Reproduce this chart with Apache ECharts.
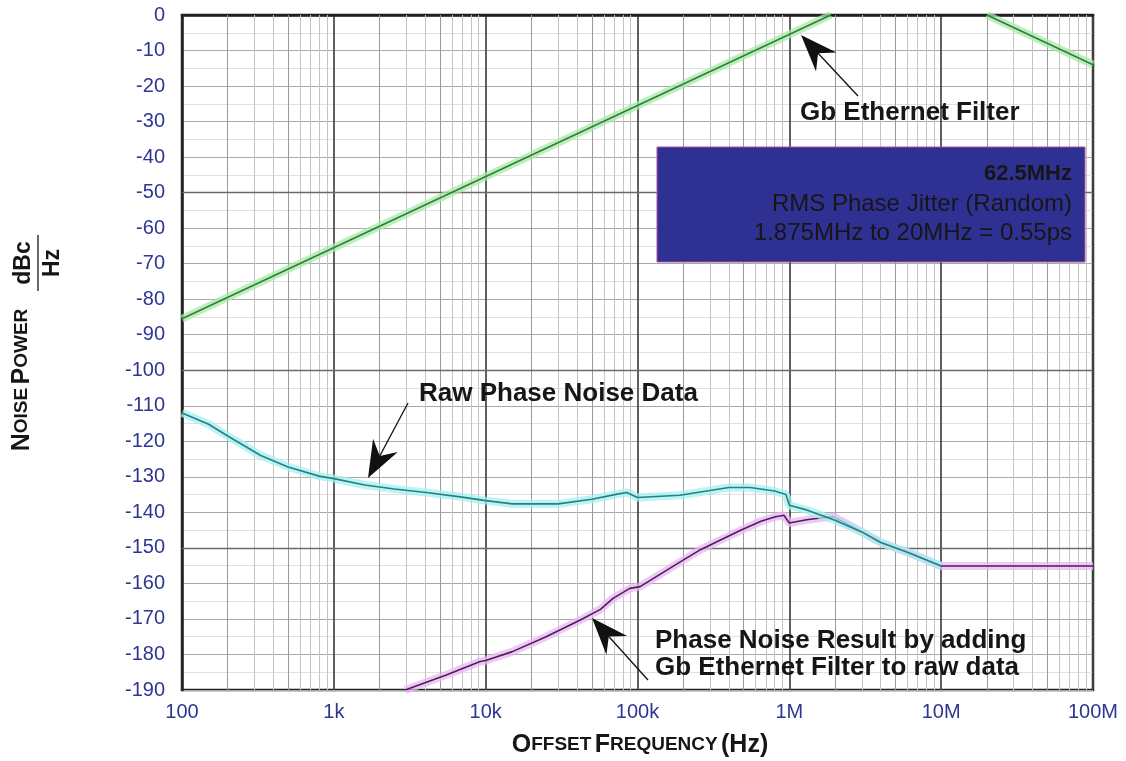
<!DOCTYPE html>
<html>
<head>
<meta charset="utf-8">
<script src="https://cdn.jsdelivr.net/npm/echarts@6/dist/echarts.min.js"></script>
<style>
  html, body { margin: 0; padding: 0; background: #fff; }
  #main { width: 1126px; height: 761px; }
</style>
</head>
<body>
<div id="main"></div>
<script>
// ---- data ----
var xTickLabels = ['100', '1k', '10k', '100k', '1M', '10M', '100M'];

// raw phase noise (cyan)
var rawFreq = [100, 150, 200, 330, 500, 800, 1000, 1600, 2500, 4200, 7000, 10000, 15000, 30000, 50000,
  75000, 85000, 100000, 190000, 400000, 550000, 800000, 950000, 1000000, 1300000, 2000000,
  3000000, 4000000, 6000000, 10000000];
var rawNoise = [-112, -115.2, -118.5, -124, -127.2, -129.8, -130.5, -132.3, -133.4, -134.5, -135.7, -136.7, -137.6, -137.6, -136.3,
  -134.8, -134.4, -135.8, -135.2, -133, -133, -134, -135, -138, -139.3, -142.2,
  -145.5, -148.5, -151.2, -155.1];

// result with filter applied (magenta)
var resFreq = [2950, 5500, 9200, 10000, 15000, 25000, 42000, 57000, 69000, 89000, 104000, 190000, 260000,
  470000, 650000, 800000, 920000, 1000000, 1300000, 1600000, 1950000, 3000000, 4000000, 6000000,
  10000000, 100000000];
var resNoise = [-190, -185.8, -182, -181.7, -179.2, -175, -170.3, -167.3, -164.2, -161.4, -160.9, -154, -150.5,
  -145.2, -142.5, -141.3, -140.8, -143, -142.1, -141.6, -141.2, -145.5, -148.5, -151.2,
  -155.1, -155.1];

// Gb ethernet filter edges (green)
var filterRiseFreq = [100, 1875000];
var filterRiseDb = [-85.5, 0];
var filterFallFreq = [20000000, 100000000];
var filterFallDb = [0, -14];

var boldDb = [-50, -100, -150];

function pairs(xs, ys) {
  var out = [];
  for (var i = 0; i < xs.length; i++) out.push([xs[i], ys[i]]);
  return out;
}

// minor vertical grid lines 2..9 of each decade
var minorX = [];
for (var d = 100; d < 1e8; d *= 10) {
  for (var k = 2; k <= 9; k++) minorX.push(d * k);
}

var FONT = 'Liberation Sans, Arial, sans-serif';
var myChart = echarts.init(document.getElementById('main'));

// band + centre line, like the scanned traces
function trace(name, data, band, core, z) {
  return [{
    name: name + '-band', type: 'line', data: data, symbol: 'none', silent: true, z: z,
    lineStyle: { color: band, width: 8, opacity: 0.75 }
  }, {
    name: name, type: 'line', data: data, symbol: 'none', silent: true, z: z + 1,
    lineStyle: { color: core, width: 1.6 }
  }];
}

function arrow(tail, tip) {
  var dx = tip[0] - tail[0], dy = tip[1] - tail[1];
  var len = Math.sqrt(dx * dx + dy * dy);
  var ux = dx / len, uy = dy / len, nx = -uy, ny = ux;
  var L = 37, W = 14, N = 25;
  return [{
    type: 'line', z: 100,
    shape: { x1: tail[0], y1: tail[1], x2: tip[0] - ux * N, y2: tip[1] - uy * N },
    style: { stroke: '#111', lineWidth: 1.3 }
  }, {
    type: 'polygon', z: 100,
    shape: { points: [
      [tip[0], tip[1]],
      [tip[0] - ux * L + nx * W, tip[1] - uy * L + ny * W],
      [tip[0] - ux * N, tip[1] - uy * N],
      [tip[0] - ux * L - nx * W, tip[1] - uy * L - ny * W]
    ] },
    style: { fill: '#111' }
  }];
}

function label(text, x, y, size, weight, align) {
  return {
    type: 'text', x: x, y: y, z: 100,
    style: { text: text, fill: '#161616', font: (weight || 'bold') + ' ' + size + 'px ' + FONT,
      align: align || 'left', verticalAlign: 'middle' }
  };
}

var capsRich = {
  b: { fontSize: 25, fontWeight: 'bold', fontFamily: FONT, fill: '#161616', color: '#161616' },
  s: { fontSize: 19, fontWeight: 'bold', fontFamily: FONT, fill: '#161616', color: '#161616' }
};

var graphics = []
  .concat(arrow([858, 96], [801, 35]))
  .concat(arrow([408, 403], [368, 478]))
  .concat(arrow([648, 680], [592, 618]))
  .concat([
    label('Gb Ethernet Filter', 800, 113, 26),
    label('Raw Phase Noise Data', 419, 394, 26),
    label('Phase Noise Result by adding', 655, 641, 26),
    label('Gb Ethernet Filter to raw data', 655, 668, 26),
    {
      type: 'rect', z: 90,
      shape: { x: 657, y: 147, width: 428, height: 115 },
      style: { fill: '#2e3192', stroke: '#b4509e', lineWidth: 1 }
    },
    label('62.5MHz', 1072, 174, 22, 'bold', 'right'),
    label('RMS Phase Jitter (Random)', 1072, 204, 24, 'normal', 'right'),
    label('1.875MHz to 20MHz = 0.55ps', 1072, 233, 24, 'normal', 'right'),
    {
      type: 'text', x: 22, y: 380, rotation: Math.PI / 2, z: 100,
      style: { text: '{b|N}{s|OISE} {b|P}{s|OWER}', rich: capsRich, align: 'center', verticalAlign: 'middle' }
    },
    {
      type: 'text', x: 24, y: 263, rotation: Math.PI / 2, z: 100,
      style: { text: 'dBc', fill: '#161616', font: 'bold 23px ' + FONT, align: 'center', verticalAlign: 'middle' }
    },
    {
      type: 'text', x: 53, y: 263, rotation: Math.PI / 2, z: 100,
      style: { text: 'Hz', fill: '#161616', font: 'bold 23px ' + FONT, align: 'center', verticalAlign: 'middle' }
    },
    {
      type: 'line', z: 100,
      shape: { x1: 38, y1: 235, x2: 38, y2: 291 },
      style: { stroke: '#161616', lineWidth: 1.3 }
    },
    {
      type: 'text', x: 640, y: 745, z: 100,
      style: { text: '{b|O}{s|FFSET} {b|F}{s|REQUENCY} {b|(Hz)}', rich: capsRich, align: 'center', verticalAlign: 'middle' }
    }
  ]);

var option = {
  backgroundColor: '#fff',
  animation: false,
  grid: {
    left: 182, right: 33, top: 15, bottom: 71,
    show: true, borderColor: '#222', borderWidth: 2.5
  },
  xAxis: {
    type: 'log', logBase: 10, min: 100, max: 1e8, splitNumber: 6,
    axisLine: { show: true, lineStyle: { color: '#222', width: 2.5 } },
    axisTick: { show: false },
    axisLabel: {
      color: '#2e3592', fontSize: 20, fontFamily: FONT, margin: 12,
      formatter: function(v) {
        return xTickLabels[Math.round(Math.log10(v)) - 2];
      }
    },
    splitLine: { show: true, lineStyle: { color: '#444', width: 1.7 } }
  },
  yAxis: {
    type: 'value', min: -190, max: 0, interval: 10,
    axisLine: { show: true, lineStyle: { color: '#222', width: 2.5 } },
    axisTick: { show: false },
    axisLabel: { color: '#2e3592', fontSize: 20, fontFamily: FONT, margin: 17 },
    splitLine: { show: true, lineStyle: { color: '#a8a8a8', width: 1 } },
    minorTick: { show: false, splitNumber: 2 },
    minorSplitLine: { show: true, lineStyle: { color: '#e0e0e0', width: 1 } }
  },
  graphic: graphics,
  series: [{
    name: 'grid', type: 'line', data: [], silent: true, z: 1,
    markLine: {
      silent: true, symbol: 'none', animation: false,
      label: { show: false },
      data: minorX.map(function(v) {
        var m = Math.round(v / Math.pow(10, Math.floor(Math.log10(v) + 1e-9)));
        return { xAxis: v, lineStyle: { color: m === 5 || m === 2 ? '#9a9a9a' : '#c4c4c4', width: 1, type: 'solid' } };
      }).concat(boldDb.map(function(v) {
        return { yAxis: v, lineStyle: { color: '#6a6a6a', width: 1.4, type: 'solid' } };
      }))
    }
  }]
    .concat(trace('Gb Ethernet Filter', pairs(filterRiseFreq, filterRiseDb), '#a6eaa6', '#2f7d3c', 5))
    .concat(trace('Gb Ethernet Filter 2', pairs(filterFallFreq, filterFallDb), '#a6eaa6', '#2f7d3c', 5))
    .concat(trace('Result', pairs(resFreq, resNoise), '#e9b5f2', '#4a1f5c', 7))
    .concat(trace('Raw Phase Noise', pairs(rawFreq, rawNoise), '#a4f0f0', '#2a7f7f', 9))
};

myChart.setOption(option);
</script>
</body>
</html>
